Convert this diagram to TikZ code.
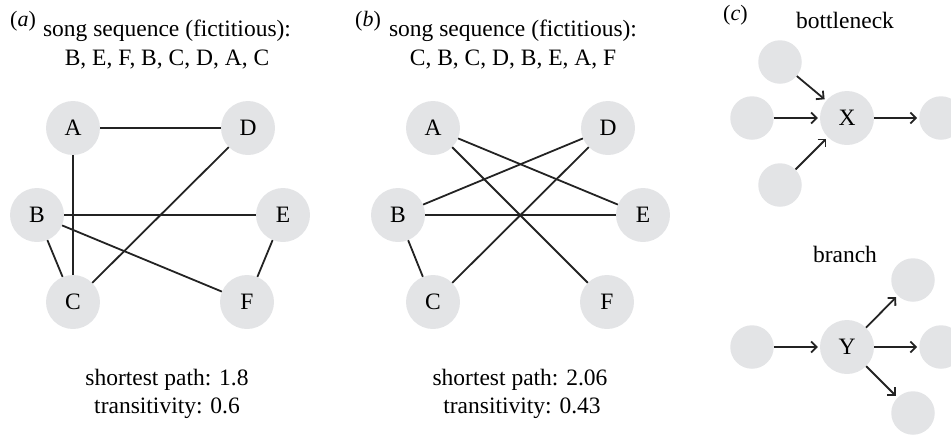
\documentclass[tikz,border=0pt]{standalone}
\usepackage{fontspec}
\setmainfont{Liberation Serif}
\usetikzlibrary{arrows.meta}
\definecolor{nodegray}{RGB}{227,228,230}
\definecolor{edgecol}{RGB}{35,35,35}
\begin{document}
\begin{tikzpicture}[x=1pt,y=-1pt,
  big/.style={circle,fill=nodegray,minimum size=54pt,inner sep=0pt,font=\fontsize{23.5}{28}\selectfont},
  small/.style={circle,fill=nodegray,minimum size=43.5pt,inner sep=0pt},
  edge/.style={draw=edgecol,line width=1.8pt},
  arr/.style={edge,-{Straight Barb[length=5.5pt,width=11pt]},shorten >=2pt},
  txt/.style={font=\fontsize{23.5}{28}\selectfont,anchor=base,inner sep=0pt},
  lbl/.style={font=\fontsize{22}{26}\selectfont,anchor=base west,inner sep=0pt}]
\useasboundingbox (0,0) rectangle (951,437);

% ---------- panel (a)
\node[lbl] (la) at (10,26) {(\textit{a})};
\node[txt] (ta1) at (167,36) {song sequence (fictitious):};
\node[txt] (ta2) at (167,65) {B, E, F, B, C, D, A, C};
\node[big] (aA) at (73,128) {A};
\node[big] (aD) at (248,128) {D};
\node[big] (aB) at (37,215) {B};
\node[big] (aE) at (283,215) {E};
\node[big] (aC) at (73,302) {C};
\node[big] (aF) at (247,302) {F};
\draw[edge] (aA) -- (aD);
\draw[edge] (aA) -- (aC);
\draw[edge] (aB) -- (aE);
\draw[edge] (aB) -- (aF);
\draw[edge] (aB) -- (aC);
\draw[edge] (aD) -- (aC);
\draw[edge] (aE) -- (aF);
\node[txt] (sa1) at (167,385) {shortest path: 1.8};
\node[txt] (sa2) at (167,413) {transitivity: 0.6};

% ---------- panel (b)
\node[lbl] (lb) at (355,26) {(\textit{b})};
\node[txt] (tb1) at (513,36) {song sequence (fictitious):};
\node[txt] (tb2) at (513,65) {C, B, C, D, B, E, A, F};
\node[big] (bA) at (433,128) {A};
\node[big] (bD) at (608,128) {D};
\node[big] (bB) at (398,215) {B};
\node[big] (bE) at (643,215) {E};
\node[big] (bC) at (433,302) {C};
\node[big] (bF) at (607,302) {F};
\draw[edge] (bA) -- (bE);
\draw[edge] (bA) -- (bF);
\draw[edge] (bB) -- (bD);
\draw[edge] (bB) -- (bE);
\draw[edge] (bB) -- (bC);
\draw[edge] (bC) -- (bD);
\node[txt] (sb1) at (520,385) {shortest path: 2.06};
\node[txt] (sb2) at (522,413) {transitivity: 0.43};

% ---------- panel (c)
\node[lbl] (lc) at (723,20) {(\textit{c})};
\node[txt] (bn) at (845,28) {bottleneck};
\node[small] (x1) at (780,62) {};
\node[small] (x2) at (752,118) {};
\node[small] (x3) at (780,185) {};
\node[big] (X) at (847,118) {X};
\node[small] (x4) at (941,118) {};
\draw[arr] (x1) -- (X);
\draw[arr] (x2) -- (X);
\draw[arr] (x3) -- (X);
\draw[arr] (X) -- (x4);

\node[txt] (br) at (845,262) {branch};
\node[small] (y0) at (752,347) {};
\node[big] (Y) at (847,347) {Y};
\node[small] (y1) at (913,280) {};
\node[small] (y2) at (941,347) {};
\node[small] (y3) at (913,413) {};
\draw[arr] (y0) -- (Y);
\draw[arr] (Y) -- (y1);
\draw[arr] (Y) -- (y2);
\draw[arr] (Y) -- (y3);
\end{tikzpicture}
\end{document}
